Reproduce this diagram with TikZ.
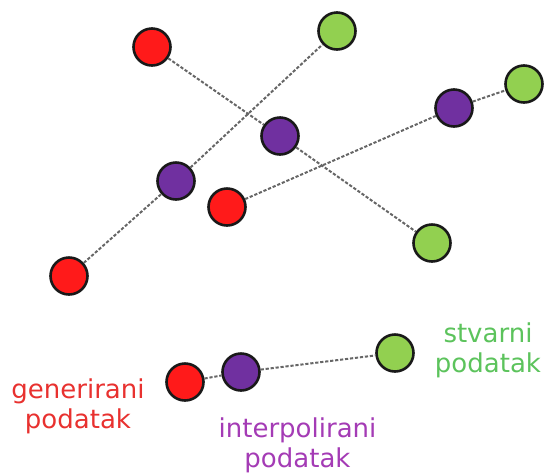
\documentclass[tikz,border=0pt]{standalone}
\usepackage{fontspec}
\setmainfont{DejaVu Sans}
\definecolor{ptred}{HTML}{FF1A1A}
\definecolor{ptgreen}{HTML}{92D050}
\definecolor{ptpurple}{HTML}{7030A0}
\definecolor{txred}{HTML}{E8312F}
\definecolor{txgreen}{HTML}{5CC35C}
\definecolor{txpurple}{HTML}{A43BB5}
\tikzset{
  pt/.style={circle, draw=black!90, line width=2.6pt, minimum size=37pt, inner sep=0pt},
  gen/.style={pt, fill=ptred},
  real/.style={pt, fill=ptgreen},
  interp/.style={pt, fill=ptpurple},
  link/.style={draw=black!60, line width=2pt, dash pattern=on 3.2pt off 1.8pt},
  lbl/.style={align=center, inner sep=0pt, font=\fontsize{26}{30}\selectfont}
}
\begin{document}
\begin{tikzpicture}[x=1pt, y=-1pt]
\useasboundingbox (0,0) rectangle (544,475);
% data points
\node[gen]    (r1) at (152,47)  {};
\node[interp] (p1) at (280,136) {};
\node[real]   (g1) at (432,243) {};

\node[gen]    (r2) at (69,276)  {};
\node[interp] (p2) at (176,181) {};
\node[real]   (g2) at (337,31)  {};

\node[gen]    (r3) at (227,207) {};
\node[interp] (p3) at (454,108) {};
\node[real]   (g3) at (524,84)  {};

% legend points
\node[gen]    (lr) at (185,382) {};
\node[interp] (lp) at (241,372) {};
\node[real]   (lg) at (395,353) {};

% connecting lines
\draw[link] (r1) -- (p1) -- (g1);
\draw[link] (r2) -- (p2) -- (g2);
\draw[link] (r3) -- (p3) -- (g3);
\draw[link] (lr) -- (lp) -- (lg);

% labels
\node[lbl, text=txred]    (tg) at (78,406)    {generirani\\podatak};
\node[lbl, text=txpurple] (ti) at (297.5,445) {interpolirani\\podatak};
\node[lbl, text=txgreen]  (ts) at (488,350)   {stvarni\\podatak};
\end{tikzpicture}
\end{document}
